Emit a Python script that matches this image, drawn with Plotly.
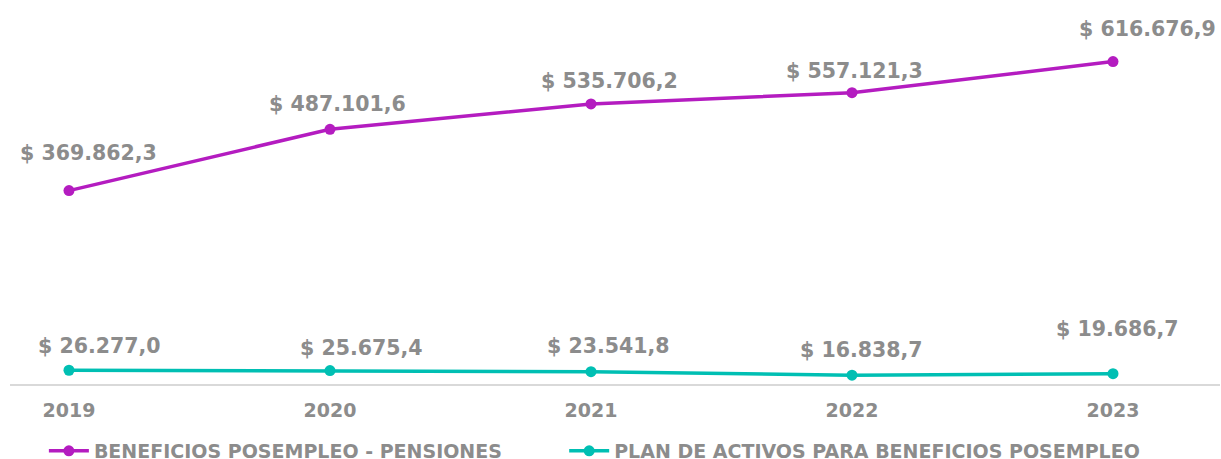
import plotly.graph_objects as go

# datos
anios = ["2019", "2020", "2021", "2022", "2023"]
pensiones = [369862.3, 487101.6, 535706.2, 557121.3, 616676.9]
plan_activos = [26277.0, 25675.4, 23541.8, 16838.7, 19686.7]
nombres = ["BENEFICIOS POSEMPLEO - PENSIONES", "PLAN DE ACTIVOS PARA BENEFICIOS POSEMPLEO"]

# desplazamiento de etiquetas (px) como en el original
dx_pen = [20, 8, 19, 3, 35]
dy_pen = [38, 25, 23, 22, 33]
dx_act = [31, 32, 18, 10, 5]
dy_act = [24, 23, 26, 25, 45]

morado = "#B41CC0"
turquesa = "#00BFB3"
gris = "#8C8C8C"
fuente = "DejaVu Sans"


def fmt(v):
    s = f"{v:,.1f}"  # 369,862.3
    s = s.replace(",", "X").replace(".", ",").replace("X", ".")
    return "$ " + s


fig = go.Figure()
series = [(nombres[0], pensiones, morado, "legend"), (nombres[1], plan_activos, turquesa, "legend2")]
for nombre, vals, color, leg in series:
    fig.add_trace(go.Scatter(
        x=anios, y=vals, name=nombre, mode="lines+markers",
        line=dict(color=color, width=3.5),
        marker=dict(color=color, size=11),
        hoverinfo="skip", legend=leg,
    ))

anots = []
for vals, dxs, dys in [(pensiones, dx_pen, dy_pen), (plan_activos, dx_act, dy_act)]:
    # indice de categoria (los anios como texto se leen como numero)
    for i, (v, dx, dy) in enumerate(zip(vals, dxs, dys)):
        anots.append(dict(
            x=i, y=v, text="<b>" + fmt(v) + "</b>", showarrow=False,
            xshift=dx, yshift=dy, xanchor="center", yanchor="middle",
            font=dict(family=fuente, size=20.5, color=gris),
        ))

leyenda = dict(
    orientation="h", xanchor="left", y=-0.183, yanchor="middle",
    font=dict(family=fuente, size=19, color=gris, weight="bold"),
    itemwidth=40, bgcolor="rgba(0,0,0,0)", borderwidth=0, maxheight=1,
)

fig.update_layout(
    width=1221, height=459,
    margin=dict(l=10, r=1, t=18, b=75, autoexpand=False),
    paper_bgcolor="white", plot_bgcolor="white",
    annotations=anots,
    showlegend=True,
    legend=dict(leyenda, x=0.028),
    legend2=dict(leyenda, x=0.458),
    xaxis=dict(
        type="category", range=[-0.226, 4.41],
        showgrid=False, zeroline=False,
        showline=True, linecolor="#D9D9D9", linewidth=2,
        ticks="outside", ticklen=8, tickcolor="rgba(0,0,0,0)",
        tickfont=dict(family=fuente, size=19, color=gris, weight="bold"),
    ),
    yaxis=dict(
        range=[0, 700000], visible=False, showgrid=False, zeroline=False,
    ),
)

# quitar el margen del body para que la figura ocupe toda la ventana
fig.write_html("out.html", config={"displayModeBar": False},
               post_script="document.body.style.margin='0';")
